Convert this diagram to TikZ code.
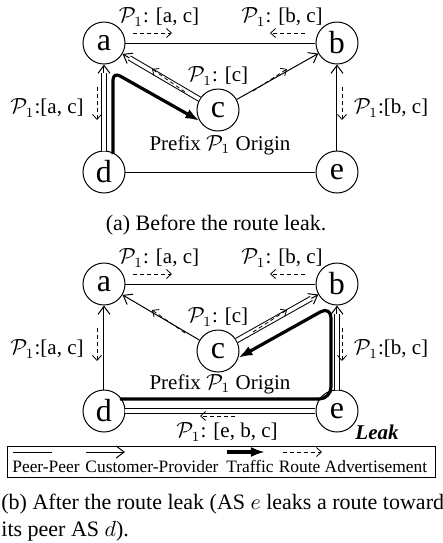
\documentclass[tikz,border=0pt]{standalone}
\usepackage{fontspec}
\setmainfont{Liberation Serif}
\usetikzlibrary{arrows.meta}
\newcommand{\asfont}{\fontsize{16}{18}\selectfont}
\newcommand{\lblfont}{\fontsize{10.5}{12}\selectfont}
\newcommand{\keyfont}{\fontsize{8.7}{10}\selectfont}
\newcommand{\capfont}{\fontsize{11}{13}\selectfont}
\newcommand{\pone}{$\mathcal{P}_1$}
\tikzset{
  asnode/.style={circle, draw, line width=0.5pt, minimum size=21pt, inner sep=0pt, font=\asfont},
  peer/.style={line width=0.5pt},
  cust/.style={line width=0.5pt, -{Straight Barb[length=4pt,width=6pt]}},
  adv/.style={line width=0.4pt, dash pattern=on 2pt off 1.5pt, -{Straight Barb[length=2.5pt,width=4.5pt]}},
  traffic/.style={line width=1.6pt, rounded corners=5pt, -{Latex[length=7pt,width=5pt]}},
  hilite/.style={line width=0.5pt, double, double distance=1.8pt},
  lbl/.style={font=\lblfont, inner sep=0pt},
  keytext/.style={font=\keyfont, inner sep=0pt, anchor=base}
}
\begin{document}
\begin{tikzpicture}[x=0.5pt,y=-0.5pt]
  \useasboundingbox (0,0) rectangle (443,543);
  % before the leak
  \node[asnode] (a1) at (104,43) {a};
  \node[asnode] (b1) at (337,43) {b};
  \node[asnode] (c1) at (218,110) {c};
  \node[asnode] (d1) at (104,172) {d};
  \node[asnode] (e1) at (337,172) {e};
  \draw[peer] (a1) -- (b1);
  \draw[peer] (d1) -- (e1);
  \draw[cust] (d1) -- (a1);
  \draw[hilite, shorten >=4pt] (d1) -- (a1);
  \draw[cust] (c1) -- (a1);
  \draw[hilite, shorten >=4pt] (c1) -- (a1);
  \draw[cust] (c1) -- (b1);
  \draw[cust] (e1) -- (b1);
  \coordinate (ts1) at (113,154);
  \coordinate (tk1) at (113,72);
  \draw[traffic, rounded corners=4pt] (ts1) -- (tk1) -- (c1.210);
  \node[lbl] (ac1) at (159,17) {\pone: [a, c]};
  \node[lbl] (bc1) at (282,17) {\pone: [b, c]};
  \node[lbl] (cc1) at (218,76) {\pone: [c]};
  \node[lbl] (al1) at (47,108) {\pone:[a, c]};
  \node[lbl] (br1) at (391,108) {\pone:[b, c]};
  \node[lbl] (or1) at (220,145) {Prefix \pone{} Origin};
  \coordinate (u1s) at (133,33);  \coordinate (u1t) at (172,33);
  \coordinate (u2s) at (305,33);  \coordinate (u2t) at (270,33);
  \coordinate (u3s) at (185,92);  \coordinate (u3t) at (152,69);
  \coordinate (u4s) at (253,91);  \coordinate (u4t) at (287,69);
  \coordinate (u5s) at (97,87);   \coordinate (u5t) at (97,120);
  \coordinate (u6s) at (342,87);  \coordinate (u6t) at (342,120);
  \draw[adv] (u1s) -- (u1t);
  \draw[adv] (u2s) -- (u2t);
  \draw[adv] (u3s) -- (u3t);
  \draw[adv] (u4s) -- (u4t);
  \draw[adv] (u5s) -- (u5t);
  \draw[adv] (u6s) -- (u6t);
  \node[font=\capfont] (capa) at (216,225) {(a) Before the route leak.};
  % after the leak
  \node[asnode] (a2) at (104,284) {a};
  \node[asnode] (b2) at (337,284) {b};
  \node[asnode] (c2) at (218,351) {c};
  \node[asnode] (d2) at (104,411) {d};
  \node[asnode] (e2) at (337,411) {e};
  \draw[peer] (a2) -- (b2);
  \draw[hilite] (d2) -- (e2);
  \draw[cust] (d2) -- (a2);
  \draw[cust] (c2) -- (a2);
  \draw[cust] (c2) -- (b2);
  \draw[hilite, shorten >=4pt] (c2) -- (b2);
  \draw[cust] (e2) -- (b2);
  \draw[hilite, shorten >=4pt] (e2) -- (b2);
  \coordinate (ts2) at (120,399);
  \coordinate (tk2) at (331,399);
  \coordinate (tk3) at (331,306);
  \draw[traffic, rounded corners=6pt] (ts2) -- (tk2) -- (tk3) -- (c2.342);
  \node[lbl] (ac2) at (159,258) {\pone: [a, c]};
  \node[lbl] (bc2) at (282,258) {\pone: [b, c]};
  \node[lbl] (cc2) at (218,317) {\pone: [c]};
  \node[lbl] (al2) at (47,349) {\pone:[a, c]};
  \node[lbl] (br2) at (391,349) {\pone:[b, c]};
  \node[lbl] (or2) at (220,384) {Prefix \pone{} Origin};
  \node[lbl] (ebc2) at (227,432) {\pone: [e, b, c]};
  \node[lbl, font=\lblfont\bfseries\itshape] (leak) at (377,432) {Leak};
  \coordinate (v1s) at (133,274);  \coordinate (v1t) at (172,274);
  \coordinate (v2s) at (305,274);  \coordinate (v2t) at (270,274);
  \coordinate (v3s) at (185,333);  \coordinate (v3t) at (152,310);
  \coordinate (v4s) at (253,332);  \coordinate (v4t) at (287,310);
  \coordinate (v5s) at (97,328);   \coordinate (v5t) at (97,361);
  \coordinate (v6s) at (342,328);  \coordinate (v6t) at (342,361);
  \coordinate (v7s) at (235,416);  \coordinate (v7t) at (200,416);
  \draw[adv] (v1s) -- (v1t);
  \draw[adv] (v2s) -- (v2t);
  \draw[adv] (v3s) -- (v3t);
  \draw[adv] (v4s) -- (v4t);
  \draw[adv] (v5s) -- (v5t);
  \draw[adv] (v6s) -- (v6t);
  \draw[adv] (v7s) -- (v7t);
  % legend
  \draw[line width=0.5pt] (8,446) rectangle (436,477);
  \coordinate (k1s) at (13,452);   \coordinate (k1t) at (52,452);
  \coordinate (k2s) at (86,452);   \coordinate (k2t) at (125,452);
  \coordinate (k3s) at (227,452);  \coordinate (k3t) at (265,452);
  \coordinate (k4s) at (283,452);  \coordinate (k4t) at (322,452);
  \draw[peer] (k1s) -- (k1t);
  \draw[cust] (k2s) -- (k2t);
  \draw[traffic] (k3s) -- (k3t);
  \draw[adv] (k4s) -- (k4t);
  \node[keytext] (kpeer) at (46,472) {Peer-Peer};
  \node[keytext] (kcust) at (152,472) {Customer-Provider};
  \node[keytext] (ktraf) at (250,472) {Traffic};
  \node[keytext] (kadv) at (353,472) {Route Advertisement};
  \node[font=\capfont, anchor=base west, inner sep=0pt] (capb1) at (1,509) {(b) After the route leak (AS $e$ leaks a route toward};
  \node[font=\capfont, anchor=base west, inner sep=0pt] (capb2) at (1,536) {its peer AS $d$).};
\end{tikzpicture}
\end{document}
